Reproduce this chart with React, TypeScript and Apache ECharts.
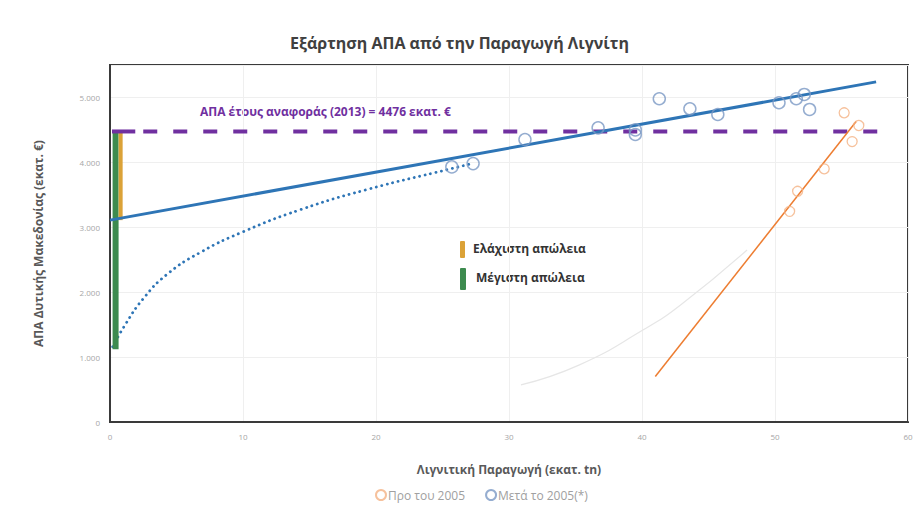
import React, { useEffect, useRef } from "react";
import * as echarts from "echarts";

const titleText = "Εξάρτηση ΑΠΑ από την Παραγωγή Λιγνίτη";
const xName = "Λιγνιτική Παραγωγή (εκατ. tn)";
const yName = "ΑΠΑ Δυτικής Μακεδονίας (εκατ. €)";
const refLabel = "ΑΠΑ έτους αναφοράς (2013) = 4476 εκατ. €";
const refValue = 4476;

const afterName = "Μετά το 2005(*)";
const beforeName = "Προ του 2005";

const afterPoints: [number, number][] = [
  [25.7, 3930], [27.3, 3981], [31.2, 4352], [36.7, 4532], [39.5, 4500], [39.5, 4429],
  [41.3, 4980], [43.6, 4825], [45.7, 4737], [50.3, 4918], [51.6, 4980], [52.2, 5046], [52.6, 4815],
];
const beforePoints: [number, number][] = [
  [51.1, 3245], [51.7, 3554], [53.7, 3900], [55.2, 4764], [55.8, 4320], [56.3, 4568],
];
const afterTrend: [number, number][] = [[0, 3110], [57.6, 5240]];
const beforeTrend: [number, number][] = [[41.0, 700], [56.1, 4630]];
const afterCurve: [number, number][] = [
  [0.2, 1160], [1.13, 1495], [2.5, 1900], [4.26, 2270], [6.77, 2610], [10, 2930],
  [14.3, 3270], [19.3, 3580], [25.6, 3900], [27, 3970],
];
const beforeCurve: [number, number][] = [[30.9, 571], [35.3, 880], [40.1, 1420], [42.9, 1803], [47.9, 2650]];
const maxLoss: [number, number][] = [[0.42, 1120], [0.42, refValue]];
const minLoss: [number, number][] = [[0.8, 3110], [0.8, refValue]];
const minLossName = "Ελάχιστη απώλεια";
const maxLossName = "Μέγιστη απώλεια";

export default function App() {
  const ref = useRef<HTMLDivElement>(null);
  useEffect(() => {
    if (!ref.current) return;
    const chart = echarts.init(ref.current, undefined, { renderer: "svg" });
    const fmt = (v: number) => {
      if (v % 1000 !== 0) return "";
      if (v === 0) return "0";
      return String(v / 1000) + ".000";
    };
    chart.setOption({
      animation: false,
      backgroundColor: "#ffffff",
      textStyle: { fontFamily: "Open Sans, Noto Sans, sans-serif" },
      title: {
        text: titleText,
        left: "center",
        top: 30,
        textStyle: { fontSize: 16, fontWeight: "bold", color: "#404040" },
      },
      legend: {
        data: [beforeName, afterName],
        left: 370,
        top: 484,
        itemWidth: 10,
        itemHeight: 10,
        itemGap: 20,
        textStyle: { fontSize: 12, color: "#a0a0a0", padding: [0, 0, 0, -3] },
      },
      grid: {
        left: 110,
        right: 11,
        top: 65,
        bottom: 89,
        show: true,
        borderColor: "#3a3a3a",
        borderWidth: 2,
      },
      xAxis: {
        type: "value",
        min: 0,
        max: 60,
        interval: 10,
        name: xName,
        nameLocation: "middle",
        nameGap: 41,
        nameTextStyle: { fontSize: 12, color: "#595959", fontWeight: "bold" },
        axisLine: { show: true, lineStyle: { color: "#3a3a3a", width: 2 } },
        axisTick: { show: false },
        axisLabel: { fontSize: 8, color: "#a6a6a6", margin: 10 },
        splitLine: { show: true, lineStyle: { color: "#efefef" } },
      },
      yAxis: {
        type: "value",
        min: 0,
        max: 5500,
        interval: 1000,
        name: yName,
        nameLocation: "middle",
        nameGap: 66,
        nameTextStyle: { fontSize: 12, color: "#595959", fontWeight: "bold" },
        axisLine: { show: true, lineStyle: { color: "#3a3a3a", width: 2 } },
        axisTick: { show: false },
        axisLabel: { fontSize: 8, color: "#a6a6a6", margin: 10, formatter: fmt },
        splitLine: { show: true, lineStyle: { color: "#efefef" } },
      },
      series: [
        {
          name: "beforeCurve",
          type: "line",
          data: beforeCurve,
          smooth: true,
          showSymbol: false,
          lineStyle: { color: "#e6e6e6", width: 1.2 },
          z: 1,
        },
        {
          name: "afterCurve",
          type: "line",
          data: afterCurve,
          smooth: 0.5,
          showSymbol: false,
          lineStyle: { color: "#2e75b6", width: 2.8, type: [0.1, 5.5], cap: "round" },
          z: 2,
        },
        {
          name: maxLossName,
          type: "line",
          data: maxLoss,
          showSymbol: false,
          lineStyle: { color: "#3d8b4f", width: 6 },
          z: 3,
        },
        {
          name: minLossName,
          type: "line",
          data: minLoss,
          showSymbol: false,
          lineStyle: { color: "#dba237", width: 4 },
          z: 3,
        },
        {
          name: "refSolid",
          type: "line",
          data: [[0.15, refValue], [1.9, refValue]],
          showSymbol: false,
          lineStyle: { color: "#7030a0", width: 4 },
          z: 4,
        },
        {
          name: "refDashed",
          type: "line",
          data: [[2.5, refValue], [58.2, refValue]],
          showSymbol: false,
          lineStyle: { color: "#7030a0", width: 4, type: [14, 16] },
          z: 4,
        },
        {
          name: "beforeTrend",
          type: "line",
          data: beforeTrend,
          showSymbol: false,
          lineStyle: { color: "#ed7d31", width: 1.5 },
          z: 5,
        },
        {
          name: "afterTrend",
          type: "line",
          data: afterTrend,
          showSymbol: false,
          lineStyle: { color: "#2e75b6", width: 3 },
          z: 6,
        },
        {
          name: beforeName,
          type: "scatter",
          data: beforePoints,
          symbol: "circle",
          symbolSize: 10,
          itemStyle: { color: "rgba(255,255,255,0)", borderColor: "#f4b183", borderWidth: 1.3 },
          z: 7,
        },
        {
          name: afterName,
          type: "scatter",
          data: afterPoints,
          symbol: "circle",
          symbolSize: 12,
          itemStyle: { color: "rgba(255,255,255,0)", borderColor: "#7b98c4", borderWidth: 1.5 },
          z: 7,
        },
      ],
      graphic: [
        {
          type: "text",
          left: 200,
          top: 105,
          style: { text: refLabel, fontSize: 12, fontWeight: "bold", fill: "#7030a0", fontFamily: "Open Sans, sans-serif" },
        },
        { type: "rect", shape: { x: 460, y: 241, width: 5, height: 17, r: 1 }, style: { fill: "#dba237" } },
        {
          type: "text",
          left: 473,
          top: 242,
          style: { text: minLossName, fontSize: 12, fontWeight: "bold", fill: "#333333", fontFamily: "Open Sans, sans-serif" },
        },
        { type: "rect", shape: { x: 460, y: 268, width: 6, height: 22, r: 1 }, style: { fill: "#3d8b4f" } },
        {
          type: "text",
          left: 476,
          top: 271,
          style: { text: maxLossName, fontSize: 12, fontWeight: "bold", fill: "#333333", fontFamily: "Open Sans, sans-serif" },
        },
      ],
    });
    return () => chart.dispose();
  }, []);
  return <div ref={ref} style={{ width: 919, height: 511, position: "absolute", left: 0, top: 0 }} />;
}
